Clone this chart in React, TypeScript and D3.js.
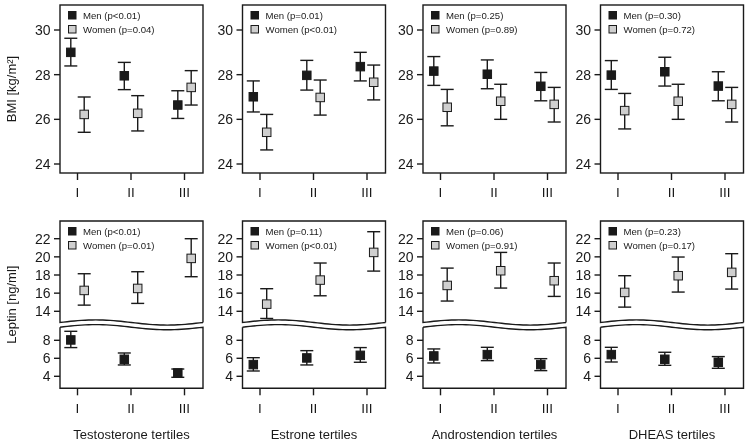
import React from "react";
import * as d3 from "d3";

const hormones = ["Testosterone tertiles", "Estrone tertiles", "Androstendion tertiles", "DHEAS tertiles"];
const tertiles = ["I", "II", "III"];

// BMI (kg/m²): mean, lower and upper error bar ends, per hormone panel, per tertile
const bmiMen = [[29.0, 27.95, 26.64], [27.01, 27.97, 28.36], [28.16, 28.02, 27.48], [27.98, 28.13, 27.49]];
const bmiMenLo = [[28.39, 27.33, 26.04], [26.33, 27.31, 27.72], [27.52, 27.37, 26.83], [27.34, 27.49, 26.83]];
const bmiMenHi = [[29.63, 28.55, 27.28], [27.72, 28.64, 29.0], [28.81, 28.66, 28.1], [28.63, 28.78, 28.13]];
const bmiWomen = [[26.22, 26.27, 27.43], [25.42, 26.98, 27.66], [26.54, 26.81, 26.67], [26.39, 26.81, 26.67]];
const bmiWomenLo = [[25.42, 25.48, 26.64], [24.63, 26.19, 26.87], [25.71, 26.0, 25.88], [25.57, 26.0, 25.88]];
const bmiWomenHi = [[27.0, 27.06, 28.18], [26.22, 27.76, 28.43], [27.34, 27.57, 27.43], [27.16, 27.57, 27.43]];

// Leptin (ng/ml)
const lepMen = [[8.04, 5.89, 4.37], [5.3, 6.04, 6.33], [6.26, 6.41, 5.3], [6.41, 5.89, 5.56]];
const lepMenLo = [[7.19, 5.26, 3.89], [4.59, 5.26, 5.56], [5.48, 5.74, 4.63], [5.59, 5.22, 4.89]];
const lepMenHi = [[9.0, 6.59, 4.81], [6.07, 6.85, 7.19], [7.04, 7.22, 5.96], [7.22, 6.67, 6.19]];
const lepWomen = [[16.3, 16.52, 19.83], [14.79, 17.44, 20.49], [16.85, 18.47, 17.37], [16.08, 17.92, 18.29]];
const lepWomenLo = [[14.68, 14.87, 17.81], [13.21, 15.71, 18.43], [15.13, 16.56, 15.64], [14.46, 16.12, 16.45]];
const lepWomenHi = [[18.14, 18.36, 22.0], [16.49, 19.32, 22.77], [18.76, 20.49, 19.32], [17.92, 19.98, 20.35]];

const bmiMenP = ["p<0.01", "p=0.01", "p=0.25", "p=0.30"];
const bmiWomenP = ["p=0.04", "p<0.01", "p=0.89", "p=0.72"];
const lepMenP = ["p<0.01", "p=0.11", "p=0.06", "p=0.23"];
const lepWomenP = ["p=0.01", "p<0.01", "p=0.91", "p=0.17"];

const bmiTicks = [24, 26, 28, 30];
const lepUpperTicks = [14, 16, 18, 20, 22];
const lepLowerTicks = [4, 6, 8];

const FONT = "'Liberation Sans', Arial, Helvetica, sans-serif";
const INK = "#1a1a1a";
const WOMEN_FILL = "#cfcfcf";

const panelLefts = [60, 242.5, 423, 600.5];
const PW = 143;
const topY0 = 5, topY1 = 173;
const botY0 = 221, botY1 = 388.3;
const waveTopBase = 322.5, waveBotBase = 327.2, waveAmp = 2.6;

const yBmi = d3.scaleLinear().domain([24, 30]).range([164, 30]);
const yLepUp = d3.scaleLinear().domain([14, 22]).range([311.3, 238.7]);
const yLepLow = d3.scaleLinear().domain([4, 8]).range([376.3, 340.3]);

const OFF = 6.7;
const SQ = 8.5;
const CAP = 6.5;
const SW = 1.4;

function wavePts(left: number, base: number) {
  const pts: [number, number][] = [];
  for (let i = 0; i <= 40; i++) {
    const t = i / 40;
    pts.push([left + t * PW, base - waveAmp * Math.sin(2 * Math.PI * t)]);
  }
  return pts;
}

function ErrPoint({ x, y, lo, hi, fill }: { x: number; y: number; lo: number; hi: number; fill: string }) {
  return (
    <g stroke={INK} strokeWidth={SW}>
      <line x1={x} x2={x} y1={hi} y2={lo} />
      <line x1={x - CAP} x2={x + CAP} y1={hi} y2={hi} />
      <line x1={x - CAP} x2={x + CAP} y1={lo} y2={lo} />
      <rect x={x - SQ / 2} y={y - SQ / 2} width={SQ} height={SQ} fill={fill} strokeWidth={1} />
    </g>
  );
}

function Legend({ left, top, menP, womenP }: { left: number; top: number; menP: string; womenP: string }) {
  const rows = [
    { label: `Men (${menP})`, fill: INK, cy: top + 10.5 },
    { label: `Women (${womenP})`, fill: WOMEN_FILL, cy: top + 24.5 },
  ];
  return (
    <g>
      {rows.map((r) => (
        <g key={r.label}>
          <rect x={left + 8.5} y={r.cy - 4} width={7.5} height={7.5} fill={r.fill} stroke={INK} strokeWidth={1} />
          <text x={left + 23} y={r.cy} dy="0.35em" fontSize={9.6} fontFamily={FONT} fill={INK}>
            {r.label}
          </text>
        </g>
      ))}
    </g>
  );
}

function YTicks({ left, scale, ticks }: { left: number; scale: d3.ScaleLinear<number, number>; ticks: number[] }) {
  return (
    <g>
      {ticks.map((t) => (
        <g key={t}>
          <line x1={left - 6} x2={left} y1={scale(t)} y2={scale(t)} stroke={INK} strokeWidth={SW} />
          <text x={left - 9.5} y={scale(t)} dy="0.36em" textAnchor="end" fontSize={14} fontFamily={FONT} fill={INK}>
            {t}
          </text>
        </g>
      ))}
    </g>
  );
}

function XTicks({ x, y0, labelY }: { x: d3.ScalePoint<string>; y0: number; labelY: number }) {
  return (
    <g>
      {tertiles.map((t) => (
        <g key={t}>
          <line x1={x(t)!} x2={x(t)!} y1={y0} y2={y0 + 7} stroke={INK} strokeWidth={SW} />
          <text x={x(t)!} y={labelY} dy="0.36em" textAnchor="middle" fontSize={13.5} fontFamily={FONT} fill={INK}>
            {t}
          </text>
        </g>
      ))}
    </g>
  );
}

export default function App() {
  const line = d3.line();
  return (
    <svg
      width={749}
      height={442}
      style={{ position: "absolute", left: 0, top: 0, background: "#fff", willChange: "transform" }}
    >
      <rect width={749} height={442} fill="#fff" />
      {hormones.map((h, p) => {
        const left = panelLefts[p];
        const right = left + PW;
        const x = d3.scalePoint<string>().domain(tertiles).range([left + 17.5, left + 124.5]);
        const wTop = wavePts(left, waveTopBase);
        const wBot = wavePts(left, waveBotBase);
        const upperFrame: [number, number][] = [
          [right, wTop[wTop.length - 1][1]],
          [right, botY0],
          [left, botY0],
          [left, wTop[0][1]],
          ...wTop,
        ];
        const lowerFrame: [number, number][] = [
          [left, wBot[0][1]],
          [left, botY1],
          [right, botY1],
          [right, wBot[wBot.length - 1][1]],
          ...wBot.slice().reverse(),
        ];
        return (
          <g key={h}>
            {/* BMI panel */}
            <rect x={left} y={topY0} width={PW} height={topY1 - topY0} fill="none" stroke={INK} strokeWidth={SW} />
            <YTicks left={left} scale={yBmi} ticks={bmiTicks} />
            <XTicks x={x} y0={topY1} labelY={192} />
            {tertiles.map((t, i) => (
              <g key={t}>
                <ErrPoint x={x(t)! - OFF} y={yBmi(bmiMen[p][i])} lo={yBmi(bmiMenLo[p][i])} hi={yBmi(bmiMenHi[p][i])} fill={INK} />
                <ErrPoint x={x(t)! + OFF} y={yBmi(bmiWomen[p][i])} lo={yBmi(bmiWomenLo[p][i])} hi={yBmi(bmiWomenHi[p][i])} fill={WOMEN_FILL} />
              </g>
            ))}
            <Legend left={left} top={topY0} menP={bmiMenP[p]} womenP={bmiWomenP[p]} />

            {/* Leptin panel with broken axis */}
            <path d={line(upperFrame)!} fill="none" stroke={INK} strokeWidth={SW} />
            <path d={line(lowerFrame)!} fill="none" stroke={INK} strokeWidth={SW} />
            <YTicks left={left} scale={yLepUp} ticks={lepUpperTicks} />
            <YTicks left={left} scale={yLepLow} ticks={lepLowerTicks} />
            <XTicks x={x} y0={botY1} labelY={408} />
            {tertiles.map((t, i) => (
              <g key={t}>
                <ErrPoint x={x(t)! - OFF} y={yLepLow(lepMen[p][i])} lo={yLepLow(lepMenLo[p][i])} hi={yLepLow(lepMenHi[p][i])} fill={INK} />
                <ErrPoint x={x(t)! + OFF} y={yLepUp(lepWomen[p][i])} lo={yLepUp(lepWomenLo[p][i])} hi={yLepUp(lepWomenHi[p][i])} fill={WOMEN_FILL} />
              </g>
            ))}
            <Legend left={left} top={botY0} menP={lepMenP[p]} womenP={lepWomenP[p]} />

            <text x={left + PW / 2} y={434} dy="0.36em" textAnchor="middle" fontSize={13} fontFamily={FONT} fill={INK}>
              {h}
            </text>
          </g>
        );
      })}
      <text transform={`translate(11,${(topY0 + topY1) / 2}) rotate(-90)`} dy="0.36em" textAnchor="middle" fontSize={13} fontFamily={FONT} fill={INK}>
        BMI [kg/m²]
      </text>
      <text transform={`translate(11,${(botY0 + botY1) / 2}) rotate(-90)`} dy="0.36em" textAnchor="middle" fontSize={13} fontFamily={FONT} fill={INK}>
        Leptin [ng/ml]
      </text>
    </svg>
  );
}
